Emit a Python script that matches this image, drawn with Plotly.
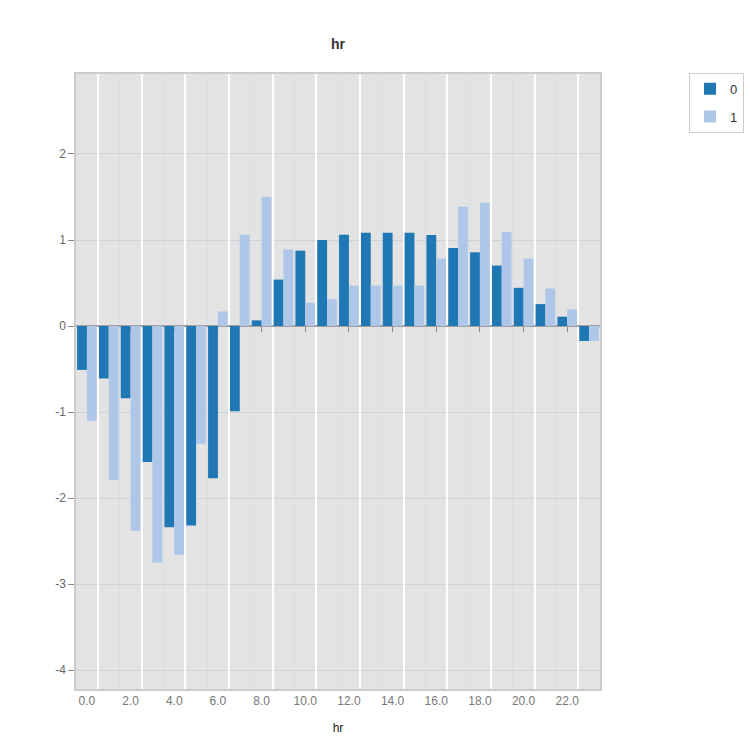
import plotly.graph_objects as go

hours = list(range(24))
tick_hours = list(range(0, 24, 2))
tick_labels = [f"{h:.1f}" for h in tick_hours]

series0 = [-0.51, -0.61, -0.84, -1.58, -2.34, -2.32, -1.77, -0.99, 0.066, 0.54,
           0.876, 1.0, 1.06, 1.085, 1.085, 1.085, 1.058, 0.907, 0.857, 0.703,
           0.444, 0.255, 0.108, -0.174]
series1 = [-1.10, -1.79, -2.38, -2.75, -2.66, -1.37, 0.17, 1.06, 1.50, 0.89,
           0.27, 0.31, 0.47, 0.47, 0.47, 0.47, 0.784, 1.386, 1.432, 1.093,
           0.784, 0.436, 0.193, -0.174]

y_ticks = [-4, -3, -2, -1, 0, 1, 2]
y_tick_text = [str(v) for v in y_ticks]
y_range = [-4.22, 2.93]

even_bounds = [h + 0.5 for h in range(0, 24, 2)]

font_family = "Liberation Sans, Arial, sans-serif"

fig = go.Figure()
fig.add_trace(go.Bar(x=hours, y=series0, name="0", legendgroup="g0",
                     marker=dict(color="#1f77b4", line=dict(width=0))))
fig.add_trace(go.Bar(x=hours, y=series1, name="1", legendgroup="g1",
                     marker=dict(color="#aec7e8", line=dict(width=0))))
fig.add_trace(go.Scatter(x=[], y=[], xaxis="x2", showlegend=False, hoverinfo="skip"))
fig.add_trace(go.Scatter(x=[], y=[], xaxis="x3", showlegend=False, hoverinfo="skip"))

zero_pos = (0 - y_range[0]) / (y_range[1] - y_range[0])

fig.update_layout(
    width=750, height=750,
    margin=dict(l=76, r=150, t=74, b=61, autoexpand=False),
    paper_bgcolor="white",
    plot_bgcolor="#e3e3e3",
    barmode="group",
    bargap=0.1,
    bargroupgap=0,
    font=dict(family=font_family, size=12, color="#666"),
    title=dict(text="<b>hr</b>", x=0.5, xref="paper", y=1 - 44 / 750, yref="container",
               yanchor="middle", font=dict(size=14, color="#333")),
    xaxis=dict(
        range=[-0.5, 23.5], tickmode="array", tickvals=tick_hours, ticktext=tick_labels,
        showgrid=False, zeroline=False, ticks="",
        showline=True, linecolor="#cccccc", linewidth=1.5, mirror=True,
        title=dict(text="hr", font=dict(size=12, color="#222"), standoff=16),
        minor=dict(tickmode="linear", tick0=0.5, dtick=1, showgrid=True,
                   gridcolor="#d8dde6", gridwidth=1, ticks=""),
        tickfont=dict(size=12, color="#777"),
    ),
    xaxis2=dict(
        overlaying="x", range=[-0.5, 23.5], tickmode="array", tickvals=even_bounds,
        showgrid=True, gridcolor="#ffffff", gridwidth=2, showticklabels=False,
        ticks="", zeroline=False, showline=False, side="bottom", anchor="y",
    ),
    xaxis3=dict(
        overlaying="x", range=[-0.5, 23.5], tickmode="array", tickvals=tick_hours,
        showgrid=False, showticklabels=False, ticks="outside", ticklen=5,
        tickcolor="#888", tickwidth=1, zeroline=False, showline=False,
        anchor="free", position=zero_pos, side="bottom", layer="below traces",
    ),
    yaxis=dict(
        range=y_range, tickmode="array", tickvals=y_ticks, ticktext=y_tick_text,
        showgrid=True, gridcolor="#ccd2dc", gridwidth=1,
        zeroline=True, zerolinecolor="#a0a0a0", zerolinewidth=2,
        ticks="outside", ticklen=6, tickcolor="#888",
        showline=True, linecolor="#cccccc", linewidth=1.5, mirror=True,
        tickfont=dict(size=12, color="#666"),
    ),
    legend=dict(
        x=(689 - 76) / 524, y=1.002, xanchor="left", yanchor="top",
        bordercolor="#cccccc", borderwidth=1, bgcolor="white",
        font=dict(size=13, color="#333"), traceorder="grouped", tracegroupgap=8,
    ),
)

fig.write_html("out.html")
